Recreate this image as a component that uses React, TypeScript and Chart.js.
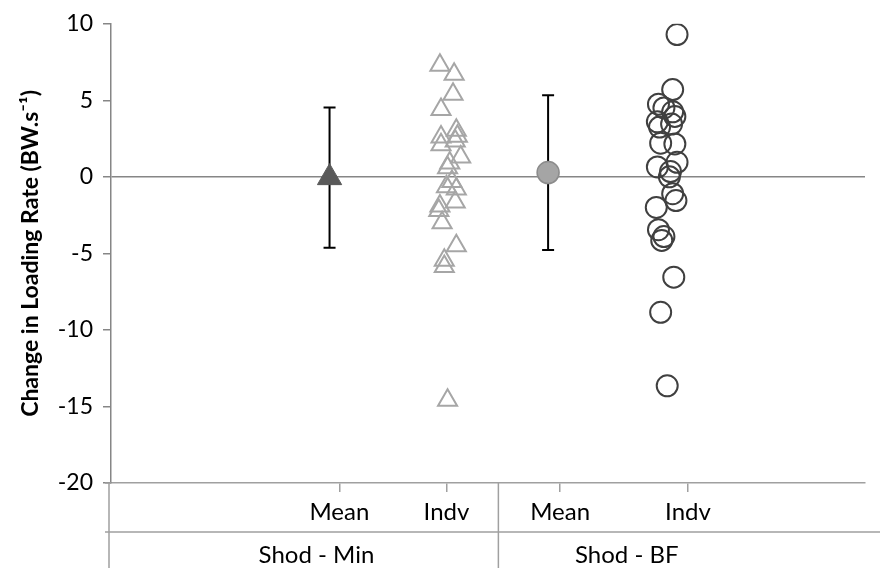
import { useEffect, useRef } from 'react';
import { Chart, registerables } from 'chart.js';

Chart.register(...registerables);

const FONT = 'Lato, "Open Sans", sans-serif';

// y axis
const yTicks = [10, 5, 0, -5, -10, -15, -20];
const yTitle = 'Change in Loading Rate (BW.s\u207B\u00B9)';

// group means with standard deviation
const meanX = [1, 3];
const meanValues = [-0.05, 0.28];
const meanSD = [4.58, 5.06];

// individual changes, Shod - Min
const indvMinX = [2.01, 2.14, 2.13, 2.02, 2.16, 2.17, 2.02, 2.15, 2.02, 2.2, 2.1, 2.08, 2.12, 2.07, 2.16, 2.15, 2.01, 2.0, 2.03, 2.16, 2.05, 2.05, 2.08];
const indvMinY = [7.3, 6.7, 5.4, 4.4, 3.05, 2.65, 2.6, 2.35, 2.1, 1.3, 0.9, 0.6, -0.3, -0.65, -0.8, -1.65, -1.9, -2.2, -3.0, -4.5, -5.45, -5.85, -14.6];

// individual changes, Shod - BF
const indvBfX = [4.18, 4.14, 4.01, 4.06, 4.14, 4.16, 4.0, 4.13, 4.02, 4.03, 4.16, 4.18, 4.0, 4.12, 4.11, 4.14, 4.17, 3.99, 4.01, 4.06, 4.04, 4.15, 4.03, 4.09];
const indvBfY = [9.3, 5.7, 4.75, 4.5, 4.25, 3.95, 3.6, 3.45, 3.25, 2.2, 2.15, 0.95, 0.65, 0.35, 0.0, -1.1, -1.55, -2.0, -3.45, -3.9, -4.15, -6.55, -8.85, -13.65];

// category table under the plot
const tickLabels = ['Mean', 'Indv', 'Mean', 'Indv'];
const tickX = [1.09, 2.07, 3.11, 4.28];
const groupLabels = ['Shod - Min', 'Shod - BF'];
const groupCenterX = [0.88, 3.72];
const groupDividerX = [2.545];

const errorBars = {
  id: 'errorBars',
  beforeDatasetsDraw(chart: any) {
    const { ctx, scales } = chart;
    const xs = scales.x;
    const ys = scales.y;
    ctx.save();
    ctx.strokeStyle = '#000000';
    ctx.lineWidth = 2;
    meanX.forEach((mx, i) => {
      const px = xs.getPixelForValue(mx);
      const top = ys.getPixelForValue(meanValues[i] + meanSD[i]);
      const bot = ys.getPixelForValue(meanValues[i] - meanSD[i]);
      ctx.beginPath();
      ctx.moveTo(px, top);
      ctx.lineTo(px, bot);
      ctx.moveTo(px - 6, top);
      ctx.lineTo(px + 6, top);
      ctx.moveTo(px - 6, bot);
      ctx.lineTo(px + 6, bot);
      ctx.stroke();
    });
    ctx.restore();
  },
};

const categoryTable = {
  id: 'categoryTable',
  afterDraw(chart: any) {
    const { ctx, scales, chartArea, width, height } = chart;
    const xs = scales.x;
    const base = chartArea.bottom;
    const rowLine = base + 49;
    const left = chartArea.left - 2;
    ctx.save();
    ctx.strokeStyle = '#A0A0A0';
    ctx.lineWidth = 1.5;
    ctx.beginPath();
    ctx.moveTo(left - 4, base);
    ctx.lineTo(chartArea.left, base);
    ctx.moveTo(left - 4, rowLine);
    ctx.lineTo(width, rowLine);
    ctx.moveTo(left, base);
    ctx.lineTo(left, height);
    groupDividerX.forEach((gx) => {
      const px = xs.getPixelForValue(gx);
      ctx.moveTo(px, base);
      ctx.lineTo(px, height);
    });
    ctx.stroke();
    ctx.fillStyle = '#000000';
    ctx.font = `24px ${FONT}`;
    ctx.textAlign = 'center';
    ctx.textBaseline = 'middle';
    groupLabels.forEach((g, i) => {
      ctx.fillText(g, xs.getPixelForValue(groupCenterX[i]), rowLine + 23);
    });
    ctx.restore();
  },
};

export default function App() {
  const ref = useRef<HTMLCanvasElement | null>(null);

  useEffect(() => {
    if (!ref.current) return;
    const chart = new Chart(ref.current, {
      type: 'scatter',
      data: {
        datasets: [
          {
            label: 'Mean Shod - Min',
            data: [{ x: meanX[0], y: meanValues[0] }],
            pointStyle: 'triangle',
            pointRadius: 14,
            pointHoverRadius: 14,
            backgroundColor: '#595959',
            borderColor: '#595959',
            borderWidth: 1,
          },
          {
            label: 'Indv Shod - Min',
            data: indvMinX.map((x, i) => ({ x, y: indvMinY[i] })),
            pointStyle: 'triangle',
            pointRadius: 11,
            pointHoverRadius: 11,
            backgroundColor: 'rgba(0,0,0,0)',
            borderColor: '#A6A6A6',
            borderWidth: 2,
          },
          {
            label: 'Mean Shod - BF',
            data: [{ x: meanX[1], y: meanValues[1] }],
            pointStyle: 'circle',
            pointRadius: 11,
            pointHoverRadius: 11,
            backgroundColor: '#A5A5A5',
            borderColor: '#8C8C8C',
            borderWidth: 1.5,
          },
          {
            label: 'Indv Shod - BF',
            data: indvBfX.map((x, i) => ({ x, y: indvBfY[i] })),
            pointStyle: 'circle',
            pointRadius: 10.5,
            pointHoverRadius: 10.5,
            backgroundColor: 'rgba(0,0,0,0)',
            borderColor: '#404040',
            borderWidth: 2,
          },
        ],
      },
      options: {
        responsive: false,
        animation: false,
        events: [],
        layout: { padding: { top: 22, right: 0, left: 0, bottom: 0 } },
        plugins: { legend: { display: false }, tooltip: { enabled: false } },
        scales: {
          x: {
            type: 'linear',
            min: -1,
            max: 5.9,
            afterBuildTicks: (s: any) => {
              s.ticks = tickX.map((v) => ({ value: v }));
            },
            afterFit: (s: any) => {
              s.height = 85;
            },
            border: { display: true, color: '#A0A0A0', width: 1.5 },
            grid: {
              drawOnChartArea: false,
              drawTicks: true,
              tickLength: 9,
              tickColor: '#A0A0A0',
              lineWidth: 1.5,
            },
            ticks: {
              autoSkip: false,
              maxRotation: 0,
              padding: 6,
              color: '#000000',
              font: { family: FONT, size: 24 },
              callback: (_v: any, i: number) => tickLabels[i],
            },
          },
          y: {
            min: -20,
            max: 10,
            afterBuildTicks: (s: any) => {
              s.ticks = yTicks.map((v) => ({ value: v }));
            },
            afterFit: (s: any) => {
              s.width = 111;
            },
            border: { display: true, color: '#868686', width: 1.5 },
            grid: {
              color: (c: any) => (c.tick && c.tick.value === 0 ? '#868686' : 'rgba(0,0,0,0)'),
              lineWidth: 1.5,
              drawTicks: true,
              tickLength: 8,
              tickColor: '#868686',
            },
            ticks: {
              color: '#000000',
              padding: 10,
              font: { family: FONT, size: 23 },
            },
            title: {
              display: true,
              text: yTitle,
              color: '#000000',
              font: { family: FONT, size: 23, weight: 'bold' },
              padding: { top: 17, bottom: 0 },
            },
          },
        },
      },
      plugins: [errorBars, categoryTable],
    });
    return () => chart.destroy();
  }, []);

  return (
    <div style={{ position: 'fixed', left: 0, top: 0, width: 880, height: 568, background: '#ffffff' }}>
      <canvas ref={ref} width={880} height={568} style={{ display: 'block' }} />
    </div>
  );
}
